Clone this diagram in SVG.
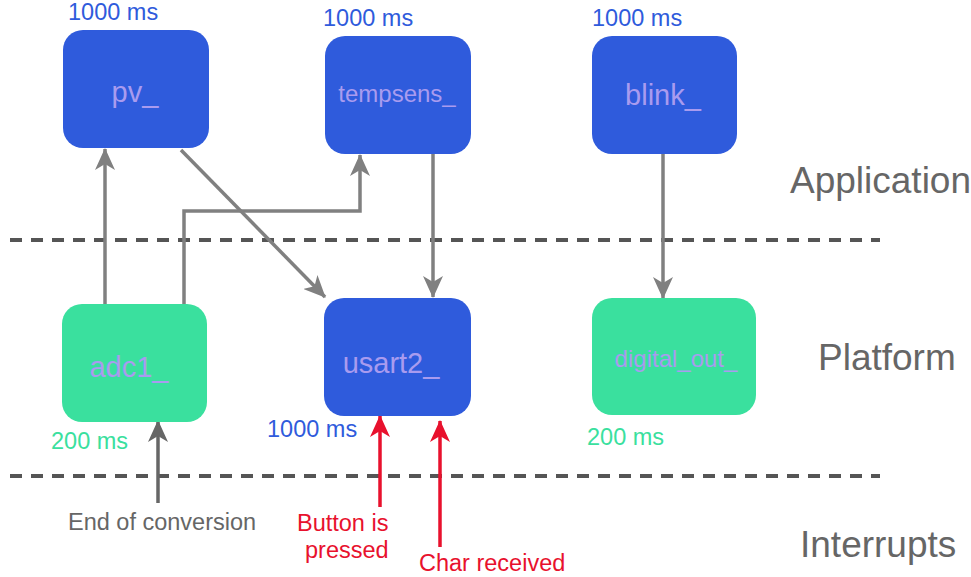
<svg xmlns="http://www.w3.org/2000/svg" width="971" height="577" viewBox="0 0 971 577">
<style>
.node rect{rx:20;ry:20}
.blue{fill:#2f5bdc}
.green{fill:#3ae09e}
.lbl{font-family:"Liberation Sans",Arial,sans-serif;fill:#a99bef;text-anchor:middle}
.ms{font-family:"Liberation Sans",Arial,sans-serif;font-size:23.5px}
.msb{fill:#2f5bdc}
.msg{fill:#3ae09e}
.layer{font-family:"Liberation Sans",Arial,sans-serif;font-size:37px;fill:#666}
.dash{stroke:#555;stroke-width:4;stroke-dasharray:12 9;fill:none}
.con{stroke:#808080;stroke-width:3.5;fill:none}
.red{stroke:#e8112d;stroke-width:3.5;fill:none}
.dk{stroke:#666;stroke-width:3.5;fill:none}
.itxt{font-family:"Liberation Sans",Arial,sans-serif;font-size:23.5px}
</style>
<defs>
<marker id="ag" markerWidth="22" markerHeight="20" viewBox="0 0 22 20" refX="21" refY="10" orient="auto" markerUnits="userSpaceOnUse"><path d="M0,0 L22,10 L0,20 L6,10 Z" fill="#808080"/></marker>
<marker id="ad" markerWidth="22" markerHeight="20" viewBox="0 0 22 20" refX="21" refY="10" orient="auto" markerUnits="userSpaceOnUse"><path d="M0,0 L22,10 L0,20 L6,10 Z" fill="#666"/></marker>
<marker id="ar" markerWidth="22" markerHeight="20" viewBox="0 0 22 20" refX="21" refY="10" orient="auto" markerUnits="userSpaceOnUse"><path d="M0,0 L22,10 L0,20 L6,10 Z" fill="#e8112d"/></marker>
</defs>
<rect width="971" height="577" fill="#fff"/>
<line class="dash" x1="10" y1="240" x2="880" y2="240"/>
<line class="dash" x1="10" y1="476" x2="880" y2="476"/>
<text class="layer" x="790" y="193">Application</text>
<text class="layer" x="818" y="370">Platform</text>
<text class="layer" x="800" y="557">Interrupts</text>
<g id="connectors">
<path class="con" d="M105,304 L105,149" marker-end="url(#ag)"/>
<path class="con" d="M184,304 L184,211 L360,211 L360,155" marker-end="url(#ag)"/>
<path class="con" d="M181,150 L325,297" marker-end="url(#ag)"/>
<path class="con" d="M433,154 L433,297" marker-end="url(#ag)"/>
<path class="con" d="M663,154 L663,298" marker-end="url(#ag)"/>
<path class="dk" d="M158,503 L158,421" marker-end="url(#ad)"/>
<path class="red" d="M380,507 L380,416" marker-end="url(#ar)"/>
<path class="red" d="M440,547 L440,421" marker-end="url(#ar)"/>
</g>
<g id="pv" class="node"><rect class="blue" x="63" y="30" width="146" height="118"/><text class="lbl" x="135" y="102" font-size="29">pv_</text><text class="ms msb" x="68" y="19.5">1000 ms</text></g>
<g id="tempsens" class="node"><rect class="blue" x="325" y="36" width="146" height="118"/><text class="lbl" x="397" y="102" font-size="24">tempsens_</text><text class="ms msb" x="323" y="26">1000 ms</text></g>
<g id="blink" class="node"><rect class="blue" x="592" y="36" width="145" height="118"/><text class="lbl" x="663" y="105" font-size="29">blink_</text><text class="ms msb" x="592" y="26">1000 ms</text></g>
<g id="adc1" class="node"><rect class="green" x="62" y="304" width="145" height="118"/><text class="lbl" x="129" y="377" font-size="29">adc1_</text><text class="ms msg" x="51" y="449">200 ms</text></g>
<g id="usart2" class="node"><rect class="blue" x="324" y="298" width="147" height="118"/><text class="lbl" x="391" y="373" font-size="29">usart2_</text><text class="ms msb" x="267" y="437">1000 ms</text></g>
<g id="digital_out" class="node"><rect class="green" x="592" y="298" width="164" height="117"/><text class="lbl" x="676" y="367" font-size="24">digital_out_</text><text class="ms msg" x="587" y="445">200 ms</text></g>
<text class="itxt" x="68" y="530" fill="#666">End of conversion</text>
<text class="itxt" x="297" y="531" fill="#e8112d">Button is</text>
<text class="itxt" x="305" y="558" fill="#e8112d">pressed</text>
<text class="itxt" x="419" y="571" fill="#e8112d">Char received</text>
</svg>
